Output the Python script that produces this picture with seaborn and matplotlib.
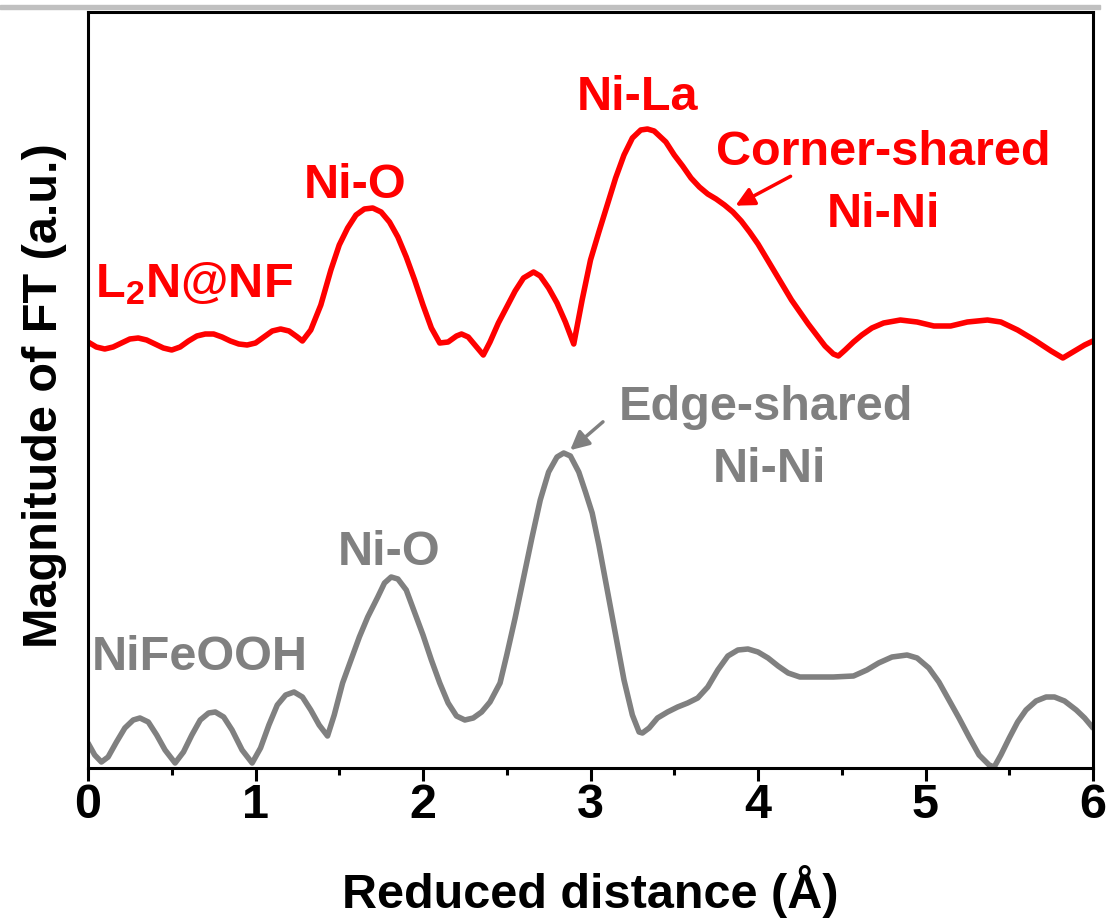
import matplotlib
matplotlib.use("Agg")
import matplotlib.pyplot as plt
import seaborn as sns
import pandas as pd
from matplotlib.patches import Rectangle

# ---- data ----
red_x = [0.0, 0.05, 0.1, 0.15, 0.2, 0.25, 0.3, 0.35, 0.4, 0.45, 0.5, 0.55, 0.6, 0.65, 0.7,
         0.75, 0.8, 0.85, 0.9, 0.95, 1.0, 1.05, 1.1, 1.15, 1.2, 1.25, 1.28,
         1.33, 1.39, 1.45, 1.5, 1.55, 1.6, 1.65, 1.7, 1.75, 1.8, 1.85, 1.9, 1.95, 2.0,
         2.05, 2.1, 2.15, 2.2, 2.23, 2.27, 2.32, 2.36, 2.4, 2.45, 2.5, 2.55, 2.6, 2.66,
         2.7, 2.75, 2.8, 2.85, 2.9, 2.95, 3.0, 3.05, 3.1, 3.15, 3.2, 3.25, 3.3, 3.34,
         3.38, 3.45, 3.5, 3.55, 3.6, 3.65, 3.7, 3.75, 3.8, 3.85, 3.9, 3.95, 4.0, 4.05,
         4.1, 4.15, 4.2, 4.25, 4.3, 4.35, 4.4, 4.45, 4.48, 4.52, 4.57, 4.62, 4.68, 4.75,
         4.85, 4.95, 5.05, 5.15, 5.25, 5.37, 5.45, 5.55, 5.65, 5.75, 5.82, 5.88, 5.95, 6.0]
red_y = [4.26, 4.21, 4.19, 4.21, 4.25, 4.29, 4.30, 4.28, 4.24, 4.20, 4.18, 4.21, 4.27, 4.32, 4.34,
         4.34, 4.31, 4.27, 4.24, 4.23, 4.25, 4.31, 4.37, 4.39, 4.37, 4.31, 4.27,
         4.38, 4.63, 4.98, 5.23, 5.40, 5.53, 5.59, 5.60, 5.56, 5.46, 5.31, 5.11, 4.88, 4.63,
         4.40, 4.25, 4.26, 4.32, 4.34, 4.31, 4.21, 4.13, 4.26, 4.45, 4.61, 4.77, 4.90, 4.96,
         4.92, 4.80, 4.65, 4.46, 4.24, 4.68, 5.08, 5.36, 5.63, 5.90, 6.13, 6.30, 6.38, 6.39,
         6.37, 6.26, 6.13, 6.02, 5.90, 5.81, 5.74, 5.69, 5.63, 5.56, 5.47, 5.36, 5.24, 5.10,
         4.96, 4.82, 4.68, 4.56, 4.44, 4.33, 4.22, 4.14, 4.12, 4.18, 4.26, 4.33, 4.40, 4.45,
         4.48, 4.46, 4.42, 4.42, 4.46, 4.48, 4.46, 4.38, 4.28, 4.17, 4.10, 4.16, 4.23, 4.27]

grey_x = [0.0, 0.04, 0.08, 0.12, 0.17, 0.22, 0.27, 0.31, 0.36, 0.41, 0.46, 0.52, 0.57, 0.62,
          0.67, 0.72, 0.76, 0.81, 0.86, 0.92, 0.98, 1.03, 1.08, 1.13, 1.18, 1.23, 1.28, 1.33,
          1.38, 1.43, 1.47, 1.52, 1.57, 1.62, 1.67, 1.73, 1.77, 1.81, 1.85, 1.9, 1.96, 2.0,
          2.05, 2.1, 2.15, 2.2, 2.25, 2.3, 2.35, 2.4, 2.46, 2.5, 2.55, 2.6, 2.65, 2.7, 2.75,
          2.8, 2.84, 2.88, 2.93, 2.97, 3.01, 3.05, 3.1, 3.15, 3.2, 3.25, 3.29, 3.31, 3.35,
          3.4, 3.46, 3.52, 3.58, 3.64, 3.7, 3.76, 3.82, 3.88, 3.94, 4.0, 4.06, 4.12, 4.18,
          4.25, 4.35, 4.45, 4.57, 4.65, 4.72, 4.8, 4.89, 4.95, 5.02, 5.08, 5.14, 5.2, 5.26,
          5.32, 5.38, 5.41, 5.45, 5.5, 5.55, 5.6, 5.66, 5.72, 5.77, 5.83, 5.9, 5.95, 6.0]
grey_y = [0.25, 0.13, 0.06, 0.11, 0.26, 0.40, 0.48, 0.50, 0.46, 0.33, 0.18, 0.05, 0.16, 0.33,
          0.48, 0.55, 0.56, 0.51, 0.38, 0.18, 0.05, 0.20, 0.43, 0.63, 0.73, 0.76, 0.71, 0.58,
          0.43, 0.32, 0.53, 0.85, 1.08, 1.31, 1.51, 1.71, 1.85, 1.91, 1.89, 1.78, 1.51, 1.33,
          1.08, 0.85, 0.65, 0.52, 0.48, 0.50, 0.56, 0.66, 0.85, 1.13, 1.50, 1.90, 2.30, 2.68, 2.96,
          3.11, 3.15, 3.12, 2.96, 2.76, 2.55, 2.23, 1.78, 1.33, 0.88, 0.53, 0.36, 0.35, 0.40,
          0.50, 0.56, 0.61, 0.65, 0.70, 0.81, 0.98, 1.12, 1.18, 1.19, 1.16, 1.10, 1.02, 0.95,
          0.91, 0.91, 0.91, 0.92, 0.98, 1.05, 1.11, 1.13, 1.10, 1.00, 0.86, 0.68, 0.50, 0.31,
          0.13, 0.03, 0.01, 0.13, 0.30, 0.46, 0.58, 0.67, 0.71, 0.71, 0.67, 0.58, 0.50, 0.40]

x_ticks = [0, 1, 2, 3, 4, 5, 6]
x_tick_labels = ["0", "1", "2", "3", "4", "5", "6"]

RED = "#FF0000"
GREY = "#808080"

sns.set_theme(style="white")
plt.rcParams["font.family"] = ["Liberation Sans", "DejaVu Sans"]
plt.rcParams["font.weight"] = "bold"
plt.rcParams["text.color"] = "black"
plt.rcParams["axes.labelcolor"] = "black"
plt.rcParams["xtick.color"] = "black"
plt.rcParams["mathtext.fontset"] = "custom"
plt.rcParams["mathtext.rm"] = "Liberation Sans:bold"
plt.rcParams["mathtext.it"] = "Liberation Sans:bold"
plt.rcParams["mathtext.bf"] = "Liberation Sans:bold"

FS = 35

fig = plt.figure(figsize=(11.09, 9.24), dpi=100)
fig.patch.set_facecolor("white")
ax = fig.add_axes([88 / 1109, 1 - 768 / 924, (1093 - 88) / 1109, (768 - 12) / 924])

df_red = pd.DataFrame({"x": red_x, "y": red_y})
df_grey = pd.DataFrame({"x": grey_x, "y": grey_y})
sns.lineplot(data=df_red, x="x", y="y", ax=ax, color=RED, lw=4.0, sort=False,
             solid_joinstyle="round", solid_capstyle="round")
sns.lineplot(data=df_grey, x="x", y="y", ax=ax, color=GREY, lw=4.0, sort=False,
             solid_joinstyle="round", solid_capstyle="round")

ax.set_xlim(0, 6)
ax.set_ylim(0, 7.56)
ax.set_xticks(x_ticks)
ax.set_xticklabels(x_tick_labels, fontsize=FS, fontweight="bold", color="black")
ax.set_xticks([0.5, 1.5, 2.5, 3.5, 4.5, 5.5], minor=True)
ax.set_yticks([])
ax.tick_params(axis="x", which="major", direction="out", length=9, width=2.2,
               color="black", labelcolor="black", pad=2, bottom=True)
ax.tick_params(axis="x", which="minor", direction="out", length=5, width=2.2,
               color="black", bottom=True)
for s in ax.spines.values():
    s.set_color("black")
    s.set_linewidth(2.2)

ax.set_xlabel("Reduced distance (Å)", fontsize=FS, fontweight="bold", color="black")
ax.set_ylabel("Magnitude of FT (a.u.)", fontsize=FS, fontweight="bold", color="black")
ax.xaxis.set_label_coords(0.5, -0.128)
ax.yaxis.set_label_coords(-0.021, 0.493)

# annotations
ax.text(0.04, 4.71, r"L$_{2}$N@NF", color=RED, fontsize=FS, fontweight="bold",
        ha="left", va="baseline")
ax.text(1.594, 5.70, "Ni-O", color=RED, fontsize=FS, fontweight="bold", ha="center", va="baseline")
ax.text(3.28, 6.58, "Ni-La", color=RED, fontsize=FS, fontweight="bold", ha="center", va="baseline")
ax.text(4.75, 6.03, "Corner-shared", color=RED, fontsize=FS, fontweight="bold", ha="center", va="baseline")
ax.text(4.75, 5.41, "Ni-Ni", color=RED, fontsize=FS, fontweight="bold", ha="center", va="baseline")
ax.annotate("", xy=(3.851, 5.61), xytext=(4.209, 5.93),
            arrowprops=dict(arrowstyle="-|>", color=RED, lw=2.5, mutation_scale=28))

ax.text(0.024, 0.98, "NiFeOOH", color=GREY, fontsize=FS, fontweight="bold", ha="left", va="baseline")
ax.text(1.80, 2.03, "Ni-O", color=GREY, fontsize=FS, fontweight="bold", ha="center", va="baseline")
ax.text(4.05, 3.48, "Edge-shared", color=GREY, fontsize=FS, fontweight="bold", ha="center", va="baseline")
ax.text(4.07, 2.86, "Ni-Ni", color=GREY, fontsize=FS, fontweight="bold", ha="center", va="baseline")
ax.annotate("", xy=(2.866, 3.16), xytext=(3.087, 3.48),
            arrowprops=dict(arrowstyle="-|>", color=GREY, lw=2.5, mutation_scale=28))

# top border band of the original screenshot
fig.patches.append(Rectangle((0, 1 - 9 / 924), 1100 / 1109, 4 / 924,
                             transform=fig.transFigure, color="#c0c0c0", zorder=0))

fig.savefig("out.png", dpi=100, facecolor="white")
